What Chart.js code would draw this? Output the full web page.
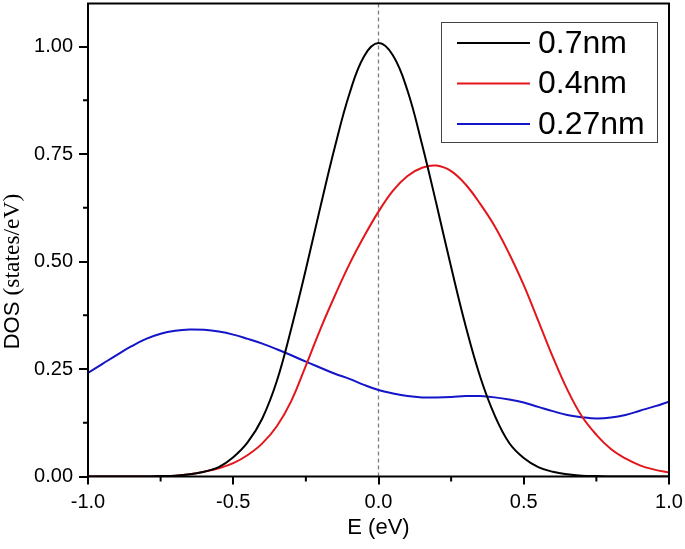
<!DOCTYPE html>
<html>
<head>
<meta charset="utf-8">
<script src="https://cdn.jsdelivr.net/npm/chart.js@4.4.0/dist/chart.umd.min.js"></script>
<style>
  html, body { margin: 0; padding: 0; background: #fff; }
  #wrap { width: 685px; height: 549px; }
</style>
</head>
<body>
<div id="wrap"><canvas id="dos" width="685" height="549"></canvas></div>
<script>
// energy grid (eV)
const energies = [-1.0, -0.95, -0.9, -0.85, -0.8, -0.75, -0.7, -0.65, -0.6, -0.55, -0.5,
  -0.45, -0.4, -0.35, -0.3, -0.25, -0.2, -0.15, -0.1, -0.05, 0.0,
  0.05, 0.1, 0.15, 0.2, 0.25, 0.3, 0.35, 0.4, 0.45, 0.5,
  0.55, 0.6, 0.65, 0.7, 0.75, 0.8, 0.85, 0.9, 0.95, 1.0];

// DOS (states/eV)
const dos07 = [0, 0, 0, 0, 0, 0.001, 0.002, 0.005, 0.011, 0.022, 0.045,
  0.080, 0.135, 0.222, 0.345, 0.482, 0.627, 0.767, 0.890, 0.977, 1.008,
  0.979, 0.897, 0.772, 0.632, 0.487, 0.350, 0.232, 0.142, 0.078, 0.043,
  0.022, 0.011, 0.005, 0.002, 0.001, 0, 0, 0, 0, 0];
const dos04 = [0, 0, 0, 0, 0, 0.001, 0.002, 0.005, 0.011, 0.019, 0.031,
  0.050, 0.077, 0.117, 0.176, 0.258, 0.343, 0.421, 0.494, 0.558, 0.616,
  0.665, 0.699, 0.718, 0.723, 0.710, 0.679, 0.634, 0.582, 0.518, 0.445,
  0.362, 0.278, 0.202, 0.140, 0.097, 0.064, 0.042, 0.026, 0.016, 0.009];
const dos027 = [0.241, 0.262, 0.283, 0.303, 0.320, 0.332, 0.339, 0.342, 0.341, 0.337, 0.330,
  0.320, 0.309, 0.296, 0.282, 0.267, 0.253, 0.239, 0.227, 0.213, 0.201,
  0.193, 0.187, 0.184, 0.184, 0.185, 0.187, 0.187, 0.184, 0.179, 0.172,
  0.162, 0.152, 0.143, 0.138, 0.135, 0.137, 0.143, 0.153, 0.163, 0.174];

const seriesLabels = ['0.7nm', '0.4nm', '0.27nm'];
const seriesColors = ['#000000', '#e3161c', '#1414c8'];

const xTicks = [-1.0, -0.5, 0.0, 0.5, 1.0];
const xTickLabels = ['-1.0', '-0.5', '0.0', '0.5', '1.0'];
const xMinor = [-0.75, -0.25, 0.25, 0.75];
const yTicks = [0, 0.25, 0.5, 0.75, 1.0];
const yTickLabels = ['0.00', '0.25', '0.50', '0.75', '1.00'];
const yMinor = [0.125, 0.375, 0.625, 0.875];

function toPoints(arr) {
    return energies.map((e, i) => ({ x: e, y: arr[i] }));
}

const sans = "'Liberation Sans', Arial, sans-serif";
const serif = "'Liberation Serif', 'Times New Roman', serif";

// dashed line at E = 0, frame, minor ticks, y title, legend
const decorPlugin = {
    id: 'decor',
    beforeDatasetsDraw(chart) {
        const ctx = chart.ctx;
        const area = chart.chartArea;
        const px = chart.scales.x.getPixelForValue(0);
        ctx.save();
        ctx.strokeStyle = '#808080';
        ctx.lineWidth = 1.3;
        ctx.setLineDash([4, 3]);
        ctx.beginPath();
        ctx.moveTo(px, area.top);
        ctx.lineTo(px, area.bottom);
        ctx.stroke();
        ctx.restore();
    },
    afterDraw(chart) {
        const ctx = chart.ctx;
        const area = chart.chartArea;
        const xs = chart.scales.x, ys = chart.scales.y;
        ctx.save();
        ctx.strokeStyle = '#000';
        ctx.lineWidth = 2;
        ctx.strokeRect(area.left, area.top, area.right - area.left, area.bottom - area.top);

        ctx.beginPath();
        xMinor.forEach(v => {
            const p = xs.getPixelForValue(v);
            ctx.moveTo(p, area.bottom);
            ctx.lineTo(p, area.bottom + 5);
        });
        yMinor.forEach(v => {
            const p = ys.getPixelForValue(v);
            ctx.moveTo(area.left, p);
            ctx.lineTo(area.left - 5, p);
        });
        ctx.stroke();

        // y axis title: "DOS" sans + "(states/eV)" serif
        const part1 = 'DOS ';
        const part2 = '(states/eV)';
        ctx.font = '22px ' + sans;
        const w1 = ctx.measureText(part1).width;
        ctx.font = '23.5px ' + serif;
        const w2 = ctx.measureText(part2).width;
        const total = w1 + w2;
        ctx.translate(13, 271.5);
        ctx.rotate(-Math.PI / 2);
        ctx.fillStyle = '#000';
        ctx.textBaseline = 'middle';
        ctx.textAlign = 'left';
        ctx.font = '22px ' + sans;
        ctx.fillText(part1, -total / 2, 0);
        ctx.font = '23.5px ' + serif;
        ctx.fillText(part2, -total / 2 + w1, 0);
        ctx.restore();

        // legend
        ctx.save();
        const bx = 441, by = 22, bw = 216, bh = 120;
        ctx.strokeStyle = '#444';
        ctx.lineWidth = 1;
        ctx.strokeRect(bx + 0.5, by + 0.5, bw, bh);
        ctx.font = '32px ' + sans;
        ctx.textBaseline = 'middle';
        ctx.fillStyle = '#000';
        chart.data.datasets.forEach((ds, i) => {
            const cy = 43 + i * 40.5;
            ctx.strokeStyle = ds.borderColor;
            ctx.lineWidth = 2;
            ctx.beginPath();
            ctx.moveTo(457, cy);
            ctx.lineTo(530, cy);
            ctx.stroke();
            ctx.fillText(ds.label, 538, cy + 1);
        });
        ctx.restore();
    }
};

new Chart(document.getElementById('dos').getContext('2d'), {
    type: 'line',
    data: {
        datasets: [dos07, dos04, dos027].map((arr, i) => ({
            label: seriesLabels[i],
            data: toPoints(arr),
            borderColor: seriesColors[i],
            borderWidth: 2,
            pointRadius: 0,
            fill: false,
            tension: 0.4
        }))
    },
    options: {
        responsive: false,
        animation: false,
        layout: { padding: { top: 3.5, right: 16, left: 0, bottom: 0 } },
        plugins: {
            legend: { display: false },
            tooltip: { enabled: false }
        },
        scales: {
            x: {
                type: 'linear',
                min: -1,
                max: 1,
                afterBuildTicks: s => { s.ticks = xTicks.map(v => ({ value: v })); },
                afterFit: s => { s.height = 72.5; s.paddingLeft = 0; s.paddingRight = 0; },
                ticks: {
                    callback: (v, i) => xTickLabels[i],
                    color: '#000',
                    font: { family: sans, size: 20 },
                    padding: 6,
                    maxRotation: 0
                },
                grid: { drawOnChartArea: false, tickLength: 8, color: '#000', lineWidth: 2 },
                border: { display: false },
                title: {
                    display: true,
                    text: 'E (eV)',
                    color: '#000',
                    font: { family: sans, size: 22 },
                    padding: { top: 0, bottom: 8 }
                }
            },
            y: {
                min: 0,
                max: 1.1,
                afterBuildTicks: s => { s.ticks = yTicks.map(v => ({ value: v })); },
                afterFit: s => { s.width = 88; s.paddingTop = 0; s.paddingBottom = 0; },
                ticks: {
                    callback: (v, i) => yTickLabels[i],
                    color: '#000',
                    font: { family: sans, size: 20 },
                    padding: 6
                },
                grid: { drawOnChartArea: false, tickLength: 9, color: '#000', lineWidth: 2 },
                border: { display: false }
            }
        }
    },
    plugins: [decorPlugin]
});
</script>
</body>
</html>
